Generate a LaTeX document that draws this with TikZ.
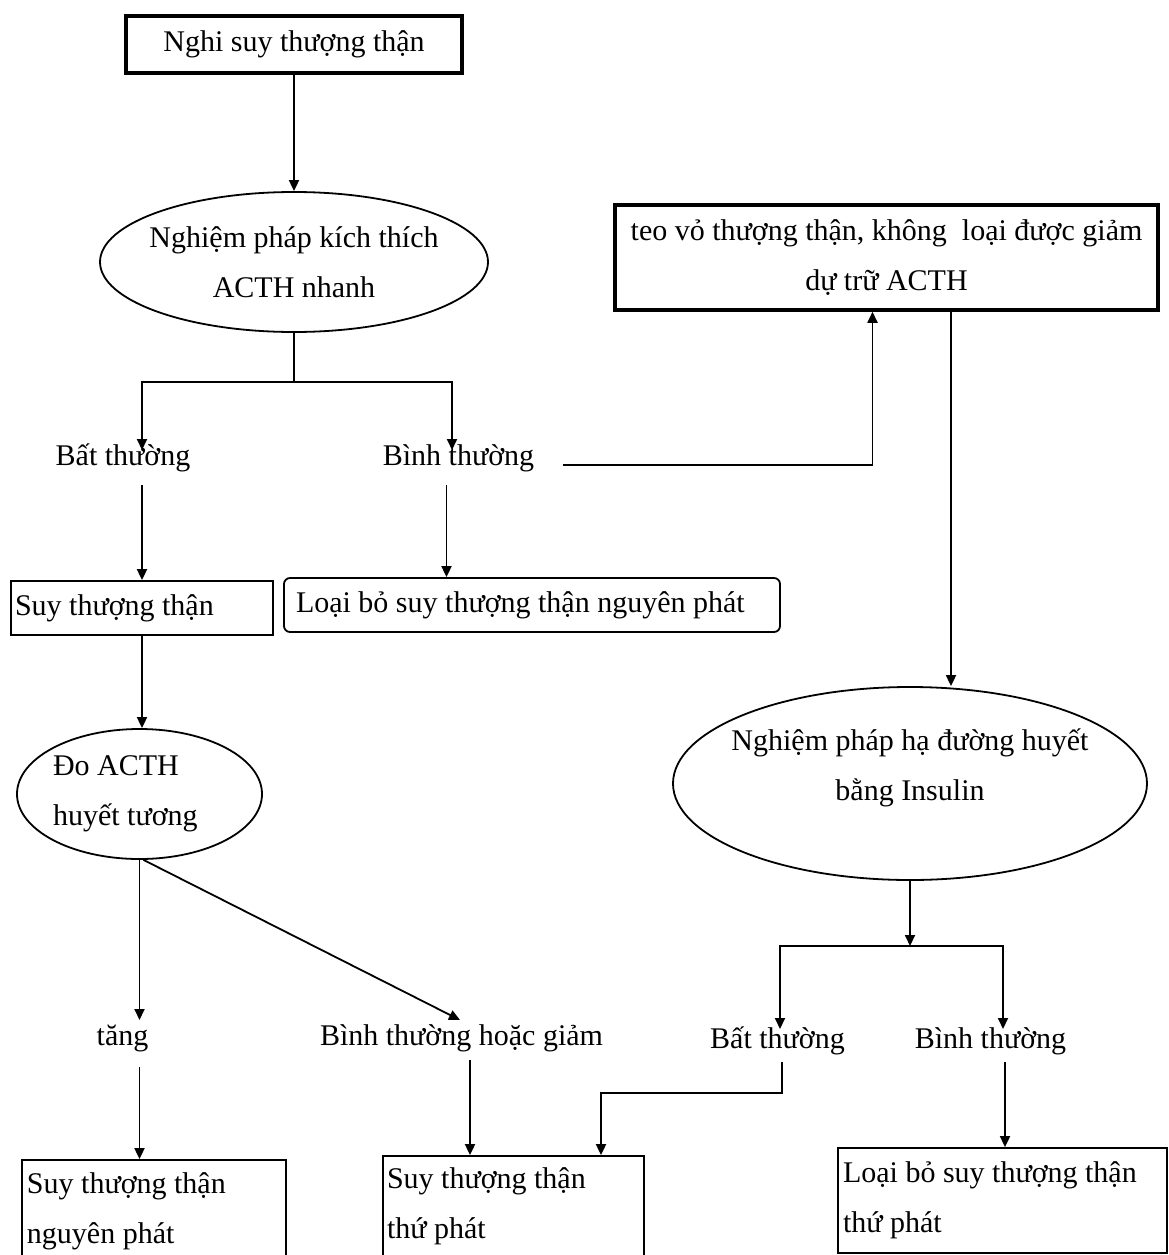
\documentclass[tikz,border=0pt]{standalone}
\usepackage{fontspec}
\setmainfont{Liberation Serif}
\usetikzlibrary{arrows.meta,shapes.geometric}
\begin{document}
\begin{tikzpicture}[x=1pt,y=-1pt,
  txt/.style={font=\fontsize{30}{50}\selectfont},
  thickbox/.style={txt,draw,line width=3.5pt,rectangle,inner sep=0pt,align=flush center},
  box/.style={txt,draw,line width=1.8pt,rectangle,inner ysep=0pt,align=flush left},
  oval/.style={txt,draw,line width=1.8pt,ellipse,inner xsep=-60pt,inner ysep=-40pt,align=flush center},
  lbl/.style={txt,inner sep=0pt,anchor=base},
  link/.style={line width=1.8pt},
  arr/.style={link,-{Triangle[length=11pt,width=10pt]}}
]
% page
\fill[white] (0,0) rectangle (1168,1255);
\useasboundingbox (0,0) rectangle (1168,1255);

% boxes and ovals
\node[thickbox, minimum width=336pt, minimum height=57pt] (n1) at (294,44.5) {Nghi suy thượng thận};
\node[oval, minimum width=388pt, minimum height=140pt] (e1) at (294,262) {Nghiệm pháp kích thích\\ACTH nhanh};
\node[thickbox, minimum width=543pt, minimum height=105pt] (b2) at (886.5,257.5) {teo vỏ thượng thận, không~ loại được giảm\\dự trữ ACTH};

\node[lbl] (l1) at (123,465) {Bất thường};
\node[lbl] (l2) at (458.5,465) {Bình thường};

\node[box, text width=254pt, inner xsep=4pt, minimum height=54pt] (bs) at (142,608) {Suy thượng thận};
\node[box, rounded corners=6pt, text width=472pt, inner xsep=12pt, minimum height=54pt] (lb) at (532,605) {Loại bỏ suy thượng thận nguyên phát};

\node[oval, text width=173pt, align=flush left, minimum width=245pt, minimum height=130pt] (e3) at (139.5,794) {Đo ACTH\\huyết tương};
\node[oval, minimum width=474pt, minimum height=193pt, text depth=38pt] (e2) at (910,783.5) {Nghiệm pháp hạ đường huyết\\bằng Insulin};

\node[lbl] (l3) at (122.5,1045) {tăng};
\node[lbl] (l4) at (461.5,1045) {Bình thường hoặc giảm};
\node[lbl] (l5) at (777.5,1048) {Bất thường};
\node[lbl] (l6) at (990.5,1048) {Bình thường};

\node[box, text width=254pt, inner xsep=5pt, minimum height=102pt] (bl) at (154,1211) {Suy thượng thận\\nguyên phát};
\node[box, text width=253pt, inner xsep=4pt, minimum height=101pt] (bm) at (513.5,1206.5) {Suy thượng thận\\thứ phát};
\node[box, text width=319pt, inner xsep=5pt, minimum height=105pt] (br) at (1002.5,1200.5) {Loại bỏ suy thượng thận\\thứ phát};

% junctions and arrow tips
\coordinate (j1) at (294,382);
\coordinate (t1) at (142,450);
\coordinate (t2) at (452,450);
\coordinate (t3) at (140,1020);
\coordinate (t4) at (460,1020);
\coordinate (j2) at (910,946);
\coordinate (t5) at (780,1029);
\coordinate (t6) at (1003,1029);
\coordinate (k1) at (601,1093);

% connectors
\draw[arr] (n1.south) -- (e1.north);
\draw[link] (e1.south) -- (j1);
\draw[arr] (j1) -| (t1);
\draw[arr] (j1) -| (t2);
\draw[arr] ([yshift=-20pt]l1.base -| bs.north) -- (bs.north);
\draw[arr] ([xshift=-12pt,yshift=-20pt]l2.base) -- ([xshift=-12pt]l2.base |- lb.north);
\draw[arr] ([xshift=29pt]l2.base east) -| ([xshift=-14pt]b2.south);
\draw[arr] ([xshift=64.5pt]b2.south) -- ([xshift=64.5pt]b2.south |- e2.north);

\draw[arr] (bs.south) -- (bs.south |- e3.north);
\draw[arr] (e3.south) -- (e3.south |- t3);
\draw[arr] ([xshift=4pt]e3.south) -- (t4);
\draw[arr] ([yshift=-22pt]l3.base -| e3.south) -- (e3.south |- bl.north);
\draw[arr] ([xshift=8.5pt,yshift=-15pt]l4.base) -- ([xshift=8.5pt]l4.base |- bm.north);

\draw[arr] (e2.south) -- (j2);
\draw[arr] (j2) -| (t5);
\draw[arr] (j2) -| (t6);
\draw[arr] ([xshift=4.5pt,yshift=-14pt]l5.base) |- (k1) -- (k1 |- bm.north);
\draw[arr] ([xshift=14.5pt,yshift=-14pt]l6.base) -- ([xshift=14.5pt]l6.base |- br.north);
\end{tikzpicture}
\end{document}
